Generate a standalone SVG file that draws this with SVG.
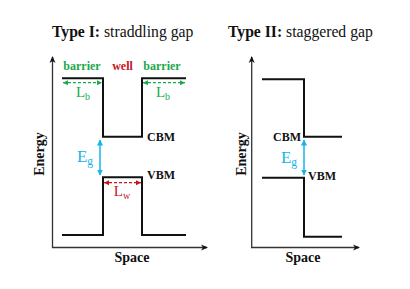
<svg xmlns="http://www.w3.org/2000/svg" width="410" height="289" viewBox="0 0 410 289">
<style>
text{font-family:"Liberation Serif","DejaVu Serif",serif}
.title{font-size:15.7px;fill:#111}
.lbl{font-size:12px;font-weight:bold;fill:#111}
.axl{font-size:14px;font-weight:bold;fill:#111}
.band{fill:none;stroke:#111;stroke-width:2}
.axis{fill:none;stroke:#333;stroke-width:1.3}
.green{fill:#1aaa4a}
.red{fill:#c8141e}
.cyan{fill:#16b4ea}
.gd{stroke:#1aaa4a;stroke-width:1.3;stroke-dasharray:3,2;fill:none}
.rd{stroke:#c8141e;stroke-width:1.3;stroke-dasharray:3,2;fill:none}
.ca{stroke:#16b4ea;stroke-width:1.5;fill:none}
</style>
<defs>
<marker id="ax" markerWidth="8" markerHeight="8" refX="6" refY="4" orient="auto" markerUnits="userSpaceOnUse"><path d="M0,1 L7,4 L0,7 L2,4 Z" fill="#111"/></marker>
<marker id="ga" markerWidth="6" markerHeight="6" refX="5" refY="3" orient="auto-start-reverse" markerUnits="userSpaceOnUse"><path d="M0,0.5 L5,3 L0,5.5 Z" fill="#1aaa4a"/></marker>
<marker id="ra" markerWidth="6" markerHeight="6" refX="5" refY="3" orient="auto-start-reverse" markerUnits="userSpaceOnUse"><path d="M0,0.5 L5,3 L0,5.5 Z" fill="#c8141e"/></marker>
<marker id="ca" markerWidth="7" markerHeight="7" refX="5.5" refY="3.5" orient="auto-start-reverse" markerUnits="userSpaceOnUse"><path d="M0,0.5 L6,3.5 L0,6.5 Z" fill="#16b4ea"/></marker>
</defs>

<g id="panel1">
<text class="title" x="52" y="37"><tspan font-weight="bold">Type I:</tspan> straddling gap</text>
<g id="axes1">
<path class="axis" d="M52.5,248 V57" marker-end="url(#ax)"/>
<path class="axis" d="M52,247.5 H207" marker-end="url(#ax)"/>
<text class="axl" transform="translate(44,154) rotate(-90)" text-anchor="middle">Energy</text>
<text class="axl" x="132" y="262" text-anchor="middle">Space</text>
</g>
<g id="cb1">
<path class="band" d="M62,78.3 H103 V136.7 H142 V78.3 H186"/>
<text class="lbl" x="147" y="141">CBM</text>
</g>
<g id="vb1">
<path class="band" d="M62,235 H103 V177.3 H142 V235 H186"/>
<text class="lbl" x="147" y="179">VBM</text>
</g>
<g id="labels1">
<text class="lbl green" x="82" y="70" text-anchor="middle">barrier</text>
<text class="lbl red" x="122.5" y="70" text-anchor="middle">well</text>
<text class="lbl green" x="162" y="70" text-anchor="middle">barrier</text>
</g>
<g id="lb1">
<path class="gd" d="M63,82.7 H102" marker-start="url(#ga)" marker-end="url(#ga)"/>
<text class="green" x="83" y="97" text-anchor="middle" font-size="15">L<tspan font-size="10" dy="3">b</tspan></text>
</g>
<g id="lb2">
<path class="gd" d="M143,82.7 H185" marker-start="url(#ga)" marker-end="url(#ga)"/>
<text class="green" x="163" y="97" text-anchor="middle" font-size="15">L<tspan font-size="10" dy="3">b</tspan></text>
</g>
<g id="lw1">
<path class="rd" d="M104,182.7 H141" marker-start="url(#ra)" marker-end="url(#ra)"/>
<text class="red" x="122" y="196" text-anchor="middle" font-size="15">L<tspan font-size="10" dy="3">w</tspan></text>
</g>
<g id="eg1">
<path class="ca" d="M100,140 V175" marker-start="url(#ca)" marker-end="url(#ca)"/>
<text class="cyan" x="85" y="162" text-anchor="middle" font-size="17">E<tspan font-size="11.5" dy="3">g</tspan></text>
</g>
</g>

<g id="panel2">
<text class="title" x="228" y="37"><tspan font-weight="bold">Type II:</tspan> staggered gap</text>
<g id="axes2">
<path class="axis" d="M251.7,248 V57" marker-end="url(#ax)"/>
<path class="axis" d="M251,247.5 H359" marker-end="url(#ax)"/>
<text class="axl" transform="translate(245.5,154) rotate(-90)" text-anchor="middle">Energy</text>
<text class="axl" x="303" y="262" text-anchor="middle">Space</text>
</g>
<g id="cb2">
<path class="band" d="M262,79.3 H304 V136.7 H342"/>
<text class="lbl" x="301" y="141" text-anchor="end">CBM</text>
</g>
<g id="vb2">
<path class="band" d="M262,177.7 H304 V236.7 H342"/>
<text class="lbl" x="308" y="180">VBM</text>
</g>
<g id="eg2">
<path class="ca" d="M304,140 V175" marker-start="url(#ca)" marker-end="url(#ca)"/>
<text class="cyan" x="289" y="163" text-anchor="middle" font-size="17">E<tspan font-size="11.5" dy="3">g</tspan></text>
</g>
</g>
</svg>
